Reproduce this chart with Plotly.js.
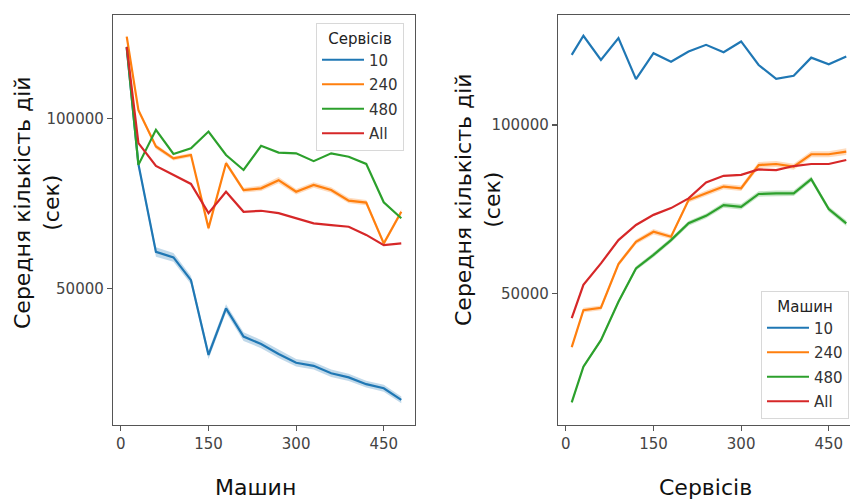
<!DOCTYPE html>
<html>
<head>
<meta charset="utf-8">
<script src="https://cdn.plot.ly/plotly-3.0.1.min.js"></script>
<style>
html, body { margin: 0; padding: 0; overflow: hidden; background: #fff; }
#chart { width: 900px; height: 500px; }
</style>
</head>
<body>
<div id="chart"></div>
<script>
// x values (shared)
const xValues = [10, 30, 60, 90, 120, 150, 180, 210, 240, 270, 300, 330, 360, 390, 420, 450, 480];
const groupLabels = ["10", "240", "480", "All"];
const xTickVals = [0, 150, 300, 450];
const yTickVals = [50000, 100000];
const yTickText = ["50000", "100000"];

// Left panel: x = Машин, hue = Сервісів
const leftS10  = [120600, 86500, 60700, 59100, 52400, 30400, 44100, 35800, 33600, 30700, 28100, 27200, 25000, 23800, 21800, 20600, 17200];
const leftS240 = [124000, 102400, 91700, 88200, 89200, 67700, 86800, 78900, 79400, 81800, 78400, 80400, 78900, 75800, 75200, 63200, 72500];
const leftS480 = [121000, 86300, 96600, 89500, 91200, 96100, 89200, 84800, 91900, 89900, 89700, 87400, 89700, 88700, 86600, 75300, 70600];
const leftAll  = [121000, 92700, 86000, 83300, 80700, 72100, 78400, 72500, 72800, 72100, 70600, 69100, 68600, 68100, 65700, 62700, 63200];
const leftS10ci  = [800, 1200, 1400, 1300, 1200, 1300, 1200, 1300, 1200, 1200, 1100, 1100, 1100, 1100, 1000, 1000, 1000];
const leftS240ci = [500, 600, 700, 600, 600, 700, 700, 700, 800, 900, 800, 800, 800, 800, 800, 700, 700];

// Right panel: x = Сервісів, hue = Машин
const rightM10  = [120800, 126500, 119300, 125800, 113600, 121300, 118800, 121800, 123800, 121600, 124800, 117800, 113700, 114600, 120000, 118000, 120300];
const rightM240 = [34000, 45000, 45700, 58700, 65300, 68300, 66800, 77700, 79700, 81700, 81200, 88100, 88400, 87600, 91300, 91300, 92100];
const rightM480 = [17600, 28200, 36100, 47500, 57400, 61400, 65800, 70800, 73000, 76200, 75700, 79500, 79700, 79700, 83900, 75000, 70800];
const rightAll  = [42600, 52500, 58900, 65800, 70300, 73300, 75300, 78200, 82900, 84900, 85200, 86800, 86600, 87800, 88400, 88400, 89600];
const rightM240ci = [500, 700, 700, 700, 700, 800, 700, 700, 800, 800, 800, 900, 900, 900, 900, 900, 1000];
const rightM480ci = [400, 500, 500, 600, 600, 700, 700, 700, 700, 800, 800, 800, 800, 800, 800, 800, 800];

const yTitle = "Середня кількість дій<br>(сек)";
const leftXTitle = "Машин";
const rightXTitle = "Сервісів";

const colors = ["#1f77b4", "#ff7f0e", "#2ca02c", "#d62728"];
const bands = ["rgba(31,119,180,0.28)", "rgba(255,127,14,0.28)", "rgba(44,160,44,0.28)", "rgba(214,39,40,0.28)"];

const W = 900, H = 500;
const FONT = "DejaVu Sans, sans-serif";

function band(x, y, ci, color, xa, ya) {
  const up = y.map((v, i) => v + ci[i]);
  const lo = y.map((v, i) => v - ci[i]);
  return {
    x: x.concat(x.slice().reverse()),
    y: up.concat(lo.slice().reverse()),
    type: "scatter", mode: "lines", fill: "toself",
    fillcolor: color, line: {width: 0, color: "rgba(0,0,0,0)"},
    hoverinfo: "skip", showlegend: false, xaxis: xa, yaxis: ya
  };
}
function line(x, y, i, xa, ya, leg) {
  return {
    x: x, y: y, type: "scatter", mode: "lines", name: groupLabels[i],
    line: {color: colors[i], width: 2.2},
    xaxis: xa, yaxis: ya, legend: leg, legendgroup: leg + "_" + i
  };
}

const traces = [
  band(xValues, leftS10, leftS10ci, bands[0], "x", "y"),
  band(xValues, leftS240, leftS240ci, bands[1], "x", "y"),
  band(xValues, rightM240, rightM240ci, bands[1], "x2", "y2"),
  band(xValues, rightM480, rightM480ci, bands[2], "x2", "y2"),
  line(xValues, leftS10, 0, "x", "y", "legend"),
  line(xValues, leftS240, 1, "x", "y", "legend"),
  line(xValues, leftS480, 2, "x", "y", "legend"),
  line(xValues, leftAll, 3, "x", "y", "legend"),
  line(xValues, rightM10, 0, "x2", "y2", "legend2"),
  line(xValues, rightM240, 1, "x2", "y2", "legend2"),
  line(xValues, rightM480, 2, "x2", "y2", "legend2"),
  line(xValues, rightAll, 3, "x2", "y2", "legend2")
];

const axisCommon = {
  showgrid: false, zeroline: false, showline: true, mirror: true,
  linecolor: "#555", linewidth: 1.2,
  ticks: "outside", ticklen: 5, tickcolor: "#555", tickwidth: 1.2,
  tickfont: {family: FONT, size: 15, color: "#444"}
};

const legendCommon = {
  bgcolor: "rgba(255,255,255,0.9)", bordercolor: "#d8d8d8", borderwidth: 1,
  font: {family: FONT, size: 15, color: "#333"},
  xanchor: "left", yanchor: "top", tracegroupgap: 2, itemwidth: 42
};
const legendTitleFont = {family: FONT, size: 15, color: "#222", weight: "normal"};

const layout = {
  width: W, height: H,
  margin: {l: 0, r: 0, t: 0, b: 0},
  paper_bgcolor: "#fff", plot_bgcolor: "#fff",
  showlegend: true,
  xaxis: Object.assign({}, axisCommon, {domain: [113 / W, 415 / W], range: [-13.5, 503.5], tickvals: xTickVals, anchor: "y"}),
  yaxis: Object.assign({}, axisCommon, {domain: [75 / H, 485 / H], range: [9794, 130382], tickvals: yTickVals, ticktext: yTickText, anchor: "x"}),
  xaxis2: Object.assign({}, axisCommon, {domain: [558 / W, 860 / W], range: [-13.5, 503.5], tickvals: xTickVals, anchor: "y2"}),
  yaxis2: Object.assign({}, axisCommon, {domain: [75 / H, 485 / H], range: [10885, 132660], tickvals: yTickVals, ticktext: yTickText, anchor: "x2"}),
  legend: Object.assign({}, legendCommon, {x: 316 / W, y: 1 - 23 / H, title: {text: rightXTitle, side: "top center", font: legendTitleFont}}),
  legend2: Object.assign({}, legendCommon, {x: 761 / W, y: 1 - 291 / H, title: {text: leftXTitle, side: "top center", font: legendTitleFont}}),
  annotations: [
    {text: yTitle, xref: "paper", yref: "paper", x: 37 / W, y: 1 - 203 / H, xanchor: "center", yanchor: "middle", textangle: -90, showarrow: false, font: {family: FONT, size: 22, color: "#111"}},
    {text: yTitle, xref: "paper", yref: "paper", x: 478 / W, y: 1 - 200 / H, xanchor: "center", yanchor: "middle", textangle: -90, showarrow: false, font: {family: FONT, size: 22, color: "#111"}},
    {text: leftXTitle, xref: "paper", yref: "paper", x: 255 / W, y: 1 - 487 / H, xanchor: "center", yanchor: "middle", showarrow: false, font: {family: FONT, size: 22, color: "#111"}},
    {text: rightXTitle, xref: "paper", yref: "paper", x: 705 / W, y: 1 - 487 / H, xanchor: "center", yanchor: "middle", showarrow: false, font: {family: FONT, size: 22, color: "#111"}}
  ]
};

Plotly.newPlot("chart", traces, layout, {displayModeBar: false, staticPlot: true});
</script>
</body>
</html>
